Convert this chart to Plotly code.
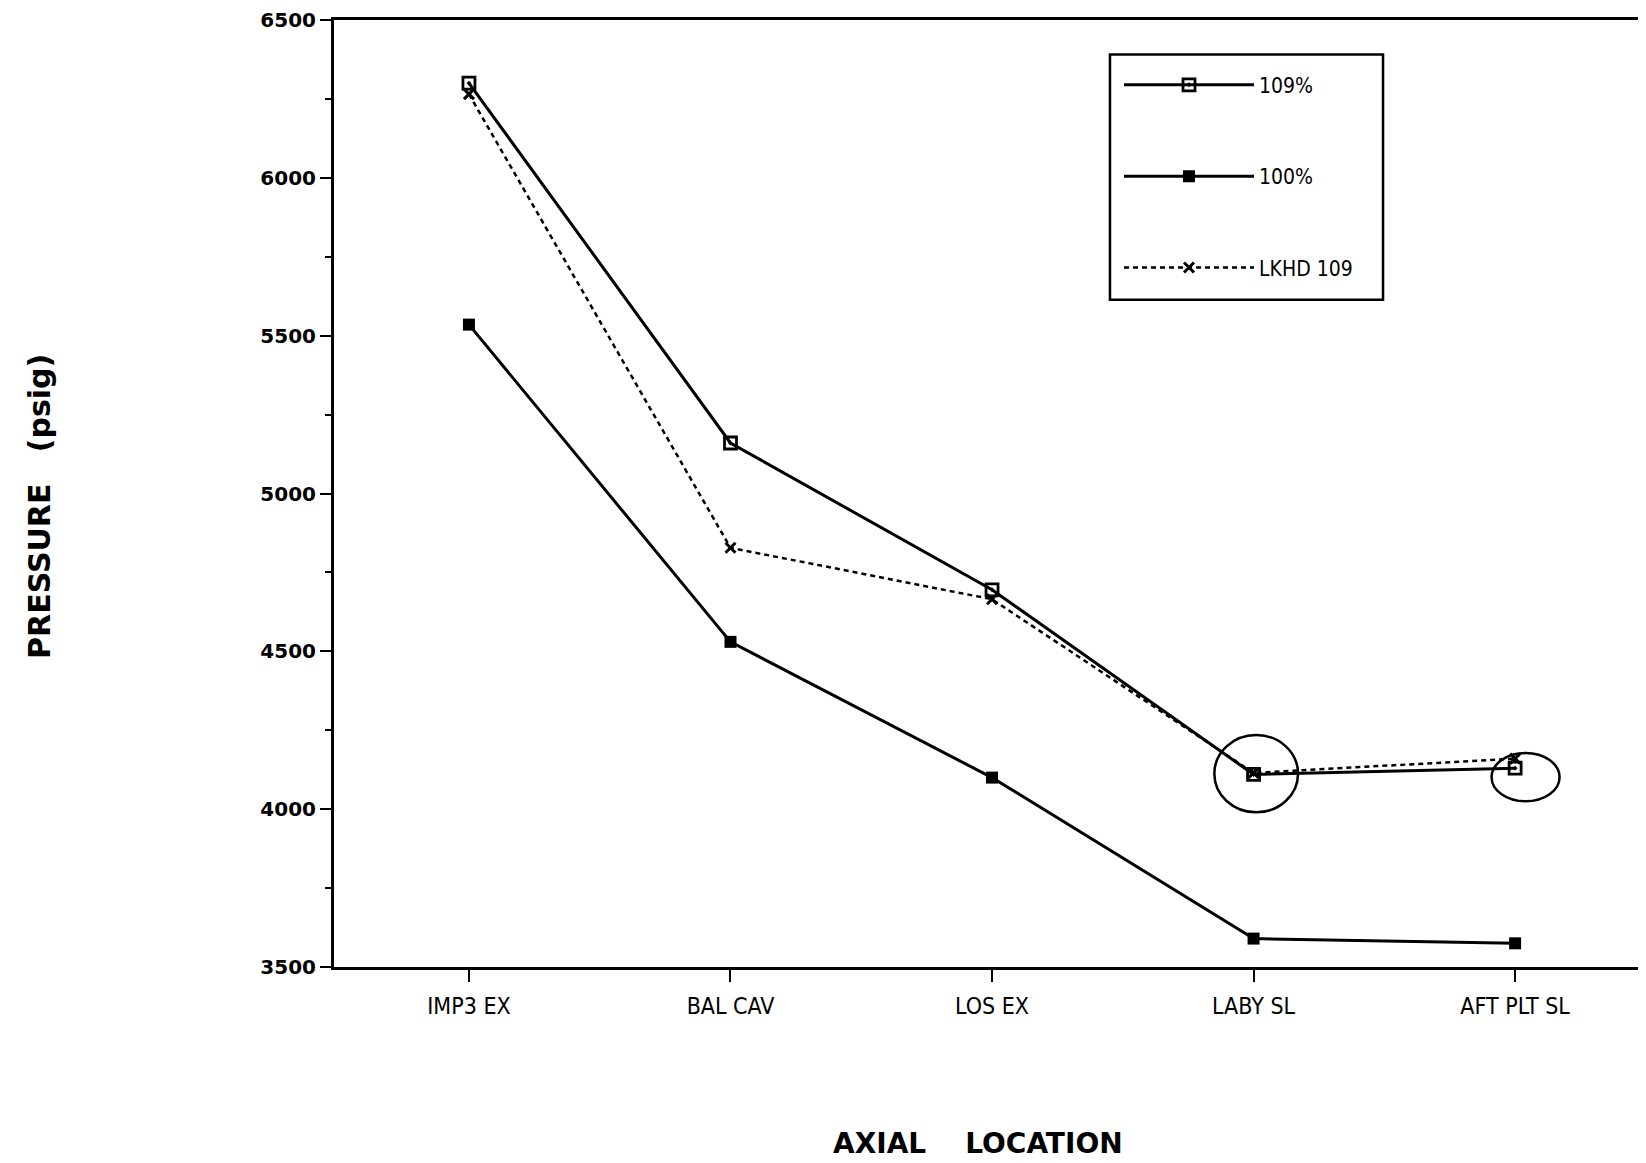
import plotly.graph_objects as go

categories = ["IMP3 EX", "BAL CAV", "LOS EX", "LABY SL", "AFT PLT SL"]
p109 = [6300, 5160, 4695, 4110, 4130]
p100 = [5535, 4530, 4100, 3590, 3575]
lkhd109 = [6265, 4828, 4665, 4115, 4160]
y_ticks = [3500, 4000, 4500, 5000, 5500, 6000, 6500]

NARROW = "DejaVu Sans Condensed, Liberation Sans Narrow, Liberation Sans, Arial"
BOLD = "DejaVu Sans, Liberation Sans, Arial"

fig = go.Figure()
fig.add_trace(go.Scatter(
    x=categories, y=p109, name="109%", mode="lines+markers", legendgroup="a",
    line=dict(color="black", width=3),
    marker=dict(symbol="square-open-dot", size=12, color="black", line=dict(width=2.8, color="black")),
))
fig.add_trace(go.Scatter(
    x=categories, y=p100, name="100%", mode="lines+markers", legendgroup="b",
    line=dict(color="black", width=3),
    marker=dict(symbol="square", size=12, color="black"),
))
fig.add_trace(go.Scatter(
    x=categories, y=lkhd109, name="LKHD 109", mode="lines+markers", legendgroup="c",
    line=dict(color="black", width=2.5, dash="5px,4px"),
    marker=dict(symbol="x-thin-open", size=10, color="black", line=dict(width=3, color="black")),
))

# hand-drawn circles around the last two 109% points
fig.add_shape(type="circle", xref="x", yref="y", x0=2.85, x1=3.17, y0=3990, y1=4235,
              line=dict(color="black", width=2.5))
fig.add_shape(type="circle", xref="x", yref="y", x0=3.91, x1=4.17, y0=4025, y1=4178,
              line=dict(color="black", width=2.5))
# legend frame
fig.add_shape(type="rect", xref="paper", yref="paper", x0=0.5928, x1=0.8014, y0=0.7045, y1=0.9636,
              line=dict(color="black", width=2.5), layer="above")

fig.update_layout(
    width=1638, height=1155,
    margin=dict(l=326, r=3, t=12, b=196),
    paper_bgcolor="white", plot_bgcolor="white",
    font=dict(family="Liberation Sans, Arial, sans-serif", color="black"),
    showlegend=True,
    legend=dict(
        x=0.5997, y=0.9528, xanchor="left", yanchor="top",
        borderwidth=0, bgcolor="rgba(0,0,0,0)",
        font=dict(family=NARROW, size=21),
        tracegroupgap=61, itemwidth=130,
        traceorder="grouped",
    ),
)
fig.update_xaxes(
    type="category", range=[-0.516, 4.489],
    showline=True, linecolor="black", linewidth=3, mirror=True,
    ticks="outside", ticklen=12, tickwidth=2, tickcolor="black",
    showgrid=False, zeroline=False, automargin=False,
    ticklabelstandoff=4,
    tickfont=dict(family=NARROW, size=23),
)
fig.update_yaxes(
    range=[3500, 6500], tickvals=y_ticks,
    showline=True, linecolor="black", linewidth=3, mirror=True,
    ticks="outside", ticklen=11, tickwidth=2, tickcolor="black",
    minor=dict(dtick=250, tick0=3500, ticks="outside", ticklen=6, tickwidth=2, tickcolor="black"),
    showgrid=False, zeroline=False, automargin=False,
    ticklabeloverflow="allow",
    tickfont=dict(family=BOLD, size=20, weight="bold"),
)
fig.add_annotation(text="PRESSURE   (psig)", xref="paper", yref="paper",
                   x=-0.2254, y=0.4868, textangle=-90, showarrow=False,
                   xanchor="center", yanchor="middle",
                   font=dict(family=BOLD, size=30, weight="bold"))
fig.add_annotation(text="AXIAL    LOCATION", xref="paper", yref="paper",
                   x=0.492, y=-0.1865, showarrow=False,
                   xanchor="center", yanchor="middle",
                   font=dict(family=BOLD, size=28, weight="bold"))

fig.write_html("out.html")
